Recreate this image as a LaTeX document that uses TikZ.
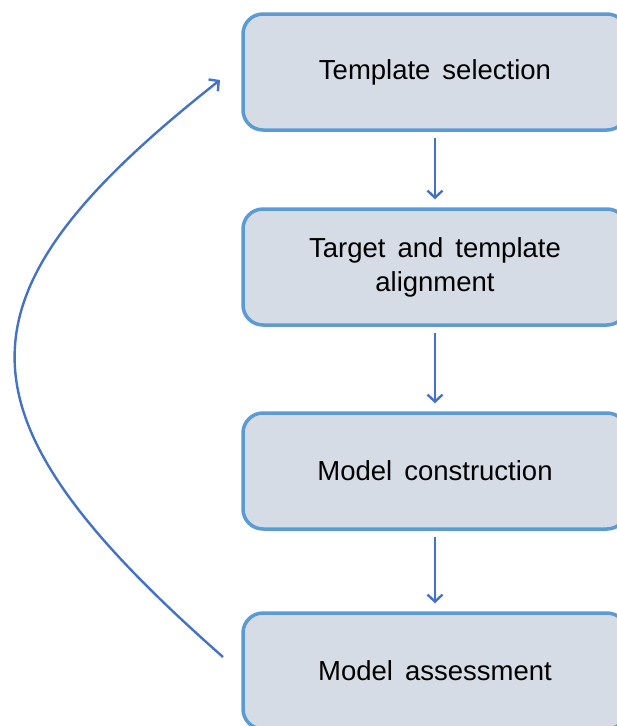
\documentclass[tikz,border=0pt]{standalone}
\usepackage{fontspec}
\setmainfont{Liberation Sans}
\usetikzlibrary{arrows.meta,positioning}

\definecolor{boxfill}{RGB}{214,220,229}
\definecolor{boxline}{RGB}{91,155,213}
\definecolor{arrowblue}{RGB}{68,114,196}

\begin{document}
\begin{tikzpicture}[
    x=1pt, y=1pt,
    stage/.style={draw=boxline, line width=3.5pt, fill=boxfill, rectangle, rounded corners=20pt,
        minimum width=384pt, minimum height=116pt, align=center,
        font={\fontsize{27.5}{34}\selectfont\spaceskip=12pt\relax}},
    line/.style={draw=arrowblue, line width=2.4pt, -{Straight Barb[length=7pt,width=15pt]}}
]
\useasboundingbox (0,0) rectangle (617,-726);

\node[stage] (select) at (435,-72) {Template selection};
\node[stage] (align) at (435,-267) {Target and template\\alignment};
\node[stage] (build) at (435,-471) {Model construction};
\node[stage] (assess) at (435,-671) {Model assessment};

\draw[line, shorten <=6pt, shorten >=8pt] (select) -- (align);
\draw[line, shorten <=6pt, shorten >=8pt] (align) -- (build);
\draw[line, shorten <=6pt, shorten >=8pt] (build) -- (assess);

% feedback loop
\coordinate (loopstart) at (223,-657);
\coordinate (loopend) at (220,-80);
\draw[line] (loopstart) .. controls (-54,-413) and (-54,-296) .. (loopend);

\end{tikzpicture}
\end{document}
